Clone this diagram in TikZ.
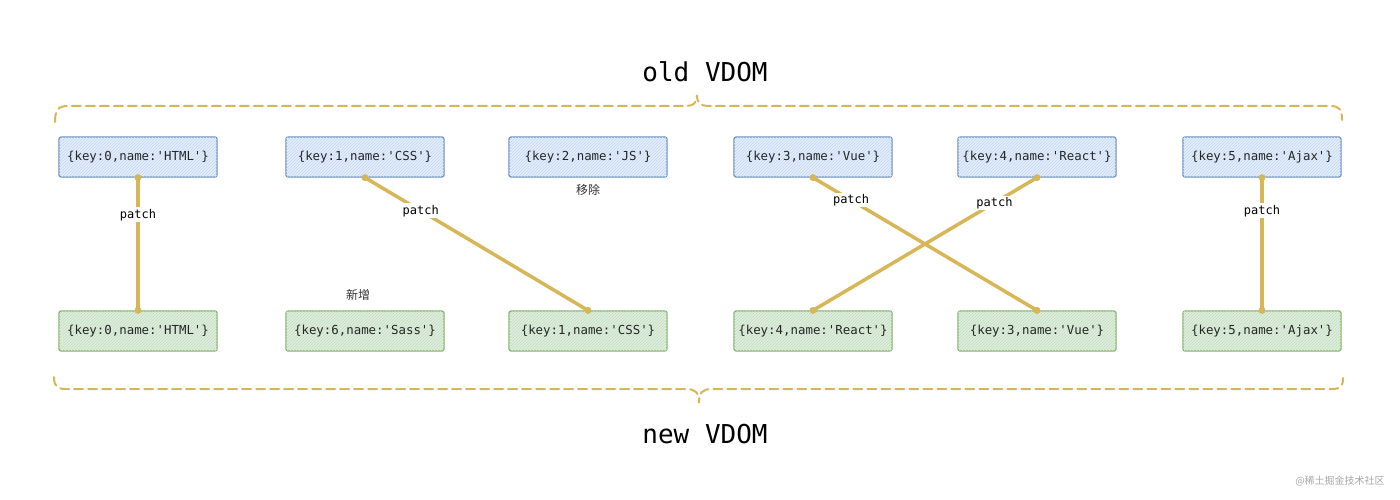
\documentclass[tikz,border=0pt]{standalone}
\usepackage{fontspec}
\setmonofont{DejaVu Sans Mono}
\newfontfamily\cjk{Noto Sans CJK SC}
\usetikzlibrary{patterns}
\definecolor{oldfill}{HTML}{DAE8FC}
\definecolor{olddraw}{HTML}{6C8EBF}
\definecolor{newfill}{HTML}{D5E8D4}
\definecolor{newdraw}{HTML}{82B366}
\definecolor{gold}{HTML}{D6B656}
\begin{document}
\begin{tikzpicture}[x=1pt,y=-1pt,
  vbox/.style={rectangle, rounded corners=2pt, minimum width=158pt, minimum height=40pt, inner xsep=2pt, line width=1.2pt, font=\ttfamily\fontsize{12.4}{14}\selectfont, text=black!85},
  oldbox/.style={vbox, draw=olddraw, fill=oldfill!75, postaction={pattern=north east lines, pattern color=oldfill!80!olddraw}},
  newbox/.style={vbox, draw=newdraw, fill=newfill!75, postaction={pattern=north east lines, pattern color=newfill!80!newdraw}},
  link/.style={draw=gold, line width=3.5pt},
  enddot/.style={fill=gold, circle, inner sep=0pt, minimum size=7pt},
  patchlbl/.style={fill=white, inner sep=1.5pt, font=\ttfamily\fontsize{12}{13}\selectfont},
  cjklbl/.style={font=\cjk\fontsize{12}{14}\selectfont, text=black!80},
  title/.style={font=\ttfamily\fontsize{26}{28}\selectfont},
  brace/.style={draw=gold, line width=2pt, dash pattern=on 9pt off 5pt, line cap=round}
]
\useasboundingbox (0,0) rectangle (1400,500);

% old VDOM row
\node[oldbox] (o0) at (138,157) {\{key:0,name:'HTML'\}};
\node[oldbox] (o1) at (365,157) {\{key:1,name:'CSS'\}};
\node[oldbox] (o2) at (588,157) {\{key:2,name:'JS'\}};
\node[oldbox] (o3) at (813,157) {\{key:3,name:'Vue'\}};
\node[oldbox] (o4) at (1037,157) {\{key:4,name:'React'\}};
\node[oldbox] (o5) at (1262,157) {\{key:5,name:'Ajax'\}};

% new VDOM row
\node[newbox] (n0) at (138,331) {\{key:0,name:'HTML'\}};
\node[newbox] (n6) at (365,331) {\{key:6,name:'Sass'\}};
\node[newbox] (n1) at (588,331) {\{key:1,name:'CSS'\}};
\node[newbox] (n4) at (813,331) {\{key:4,name:'React'\}};
\node[newbox] (n3) at (1037,331) {\{key:3,name:'Vue'\}};
\node[newbox] (n5) at (1262,331) {\{key:5,name:'Ajax'\}};

% titles
\node[title] (told) at (705,72) {old VDOM};
\node[title] (tnew) at (705,434) {new VDOM};

% braces
\draw[brace] (55,122) .. controls (55,110) and (58,106) .. (68,106) -- (684,106)
  .. controls (694,106) and (697,103) .. (697,95)
  .. controls (697,103) and (700,106) .. (710,106) -- (1330,106)
  .. controls (1340,106) and (1342,110) .. (1342,120);
\draw[brace] (54,377) .. controls (54,386) and (57,389) .. (66,389) -- (686,389)
  .. controls (695,389) and (699,392) .. (699,403)
  .. controls (699,392) and (703,389) .. (712,389) -- (1332,389)
  .. controls (1341,389) and (1343,386) .. (1343,378);

% connectors
\path[link] (o0.south) -- node[patchlbl, pos=0.28] {patch} (n0.north);
\path[link] (o1.south) -- node[patchlbl, pos=0.25] {patch} (n1.north);
\path[link] (o3.south) -- node[patchlbl, pos=0.17] {patch} (n3.north);
\path[link] (o4.south) -- node[patchlbl, pos=0.19] {patch} (n4.north);
\path[link] (o5.south) -- node[patchlbl, pos=0.25] {patch} (n5.north);
\foreach \a in {o0,o1,o3,o4,o5} \node[enddot] at (\a.south) {};
\foreach \a in {n0,n1,n3,n4,n5} \node[enddot] at (\a.north) {};

% remarks
\node[cjklbl] (rm) at (588,190) {移除};
\node[cjklbl] (add) at (358,295) {新增};

% watermark
\node[font=\cjk\fontsize{10}{12}\selectfont, text=black!35] (wm) at (1340,481) {@稀土掘金技术社区};
\end{tikzpicture}
\end{document}
